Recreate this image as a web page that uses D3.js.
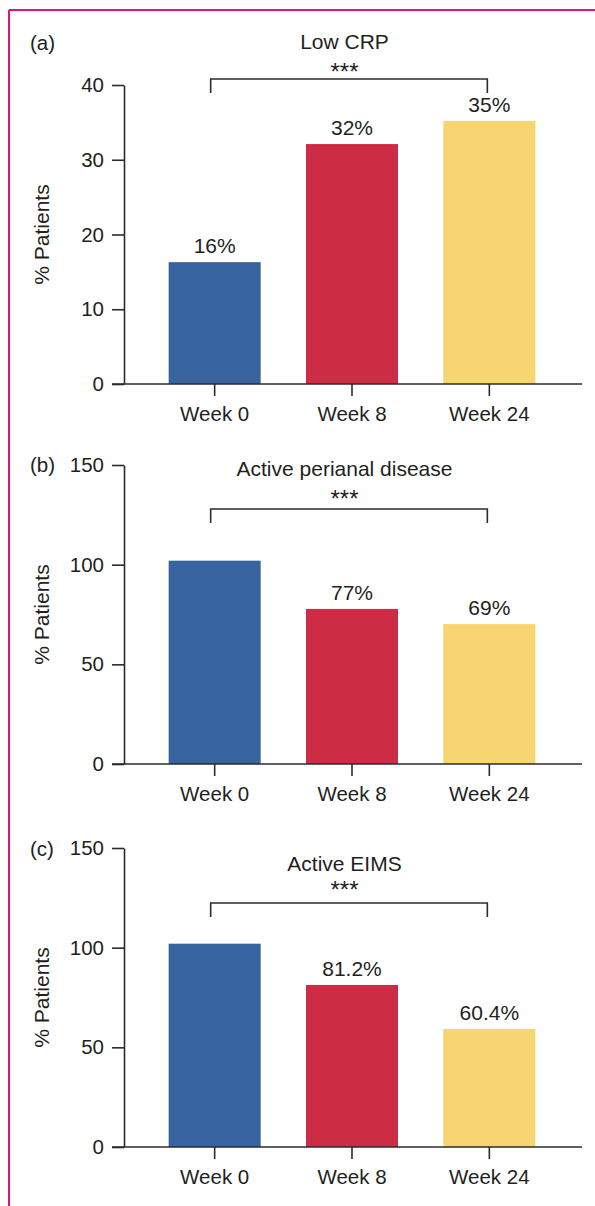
<!DOCTYPE html>
<html>
<head>
<meta charset="utf-8">
<script src="https://cdn.jsdelivr.net/npm/d3@7"></script>
<style>
  body { margin: 0; background: #fff; }
  svg { display: block; font-family: "Liberation Sans", Arial, Helvetica, sans-serif; }
  .axis path, .axis line { stroke: #2b2b2b; stroke-width: 1.6px; }
  .axis text { fill: #231f20; font-size: 20.5px; }
</style>
</head>
<body>
<div id="chart"></div>
<script>
// data
let weeks = ["Week 0", "Week 8", "Week 24"];
let panelLetters = ["(a)", "(b)", "(c)"];
let panelTitles = ["Low CRP", "Active perianal disease", "Active EIMS"];
let lowCrp = [16.3, 32.1, 35.2];
let perianal = [102, 77.8, 70.2];
let eims = [102, 81.3, 59.2];
let barLabels = [["16%", "32%", "35%"], ["", "77%", "69%"], ["", "81.2%", "60.4%"]];
let yMax = [40, 150, 150];
let yTicks = [[0, 10, 20, 30, 40], [0, 50, 100, 150], [0, 50, 100, 150]];
let significance = ["***", "***", "***"];

let barColors = ["#37649e", "#cd2c45", "#f7d672"];
let textColor = "#231f20";

let width = 595, height = 1206;

// layout of each panel: top of y axis, title / star / bracket baselines
let layout = [
  { top: 85,  titleY: 49,  starY: 80,  bracketY: 79,  letterY: 50 },
  { top: 465, titleY: 476, starY: 507, bracketY: 509, letterY: 472 },
  { top: 848, titleY: 871, starY: 898, bracketY: 903, letterY: 856 }
];
let plotH = 299;
let axisX = 124;

let svg = d3.select("#chart")
  .append("svg")
  .attr("width", width)
  .attr("height", height);

// magenta frame (top and left edges)
svg.append("line").attr("x1", 9).attr("x2", width).attr("y1", 10).attr("y2", 10)
  .attr("stroke", "#e0137a").attr("stroke-width", 2);
svg.append("line").attr("x1", 9).attr("x2", 9).attr("y1", 10).attr("y2", height)
  .attr("stroke", "#e0137a").attr("stroke-width", 2);

let xScale = d3.scaleBand()
  .domain(weeks)
  .range([146, 558])
  .paddingInner(0.33)
  .paddingOuter(0.165);

let allValues = [lowCrp, perianal, eims];

for (let p = 0; p < 3; p++) {
  let L = layout[p];
  let values = allValues[p];
  let data = weeks.map(function(w, i) { return { week: w, value: values[i], label: barLabels[p][i], color: barColors[i] }; });

  let yScale = d3.scaleLinear()
    .domain([0, yMax[p]])
    .range([L.top + plotH, L.top]);

  let g = svg.append("g");

  g.selectAll("rect")
    .data(data)
    .enter()
    .append("rect")
    .attr("x", function(d) { return xScale(d.week); })
    .attr("width", xScale.bandwidth())
    .attr("y", function(d) { return yScale(d.value); })
    .attr("height", function(d) { return yScale(0) - yScale(d.value); })
    .attr("fill", function(d) { return d.color; });

  // value labels
  g.selectAll(".vlabel")
    .data(data.filter(function(d) { return d.label !== ""; }))
    .enter()
    .append("text")
    .attr("class", "vlabel")
    .attr("x", function(d) { return xScale(d.week) + xScale.bandwidth() / 2; })
    .attr("y", function(d) { return yScale(d.value) - 9; })
    .attr("text-anchor", "middle")
    .attr("fill", textColor)
    .style("font-size", "21px")
    .text(function(d) { return d.label; });

  // y axis
  let yAxis = d3.axisLeft(yScale)
    .tickValues(yTicks[p])
    .tickSize(12)
    .tickSizeOuter(0)
    .tickPadding(8);

  g.append("g")
    .attr("class", "axis y-axis")
    .attr("transform", "translate(" + axisX + ",0)")
    .call(yAxis);

  // x axis
  let xAxis = d3.axisBottom(xScale)
    .tickSize(12)
    .tickSizeOuter(0)
    .tickPadding(10);

  let xg = g.append("g")
    .attr("class", "axis x-axis")
    .attr("transform", "translate(0," + yScale(0) + ")")
    .call(xAxis);
  xg.select(".domain").remove();
  xg.append("line")
    .attr("x1", axisX - 12).attr("x2", 582)
    .attr("y1", 0).attr("y2", 0);

  // y axis label
  g.append("text")
    .attr("transform", "translate(49," + (L.top + plotH / 2) + ") rotate(-90)")
    .attr("text-anchor", "middle")
    .attr("fill", textColor)
    .style("font-size", "21px")
    .text("% Patients");

  // panel letter
  g.append("text")
    .attr("x", 30)
    .attr("y", L.letterY)
    .attr("fill", textColor)
    .style("font-size", "20.5px")
    .text(panelLetters[p]);

  // title
  g.append("text")
    .attr("x", 344.5)
    .attr("y", L.titleY)
    .attr("text-anchor", "middle")
    .attr("fill", textColor)
    .style("font-size", "21px")
    .text(panelTitles[p]);

  g.append("text")
    .attr("x", 344.5)
    .attr("y", L.starY)
    .attr("text-anchor", "middle")
    .attr("fill", textColor)
    .style("font-size", "24px")
    .text(significance[p]);

  // bracket Week 0 -> Week 24
  let bx1 = xScale(weeks[0]) + xScale.bandwidth() / 2 - 4;
  let bx2 = xScale(weeks[2]) + xScale.bandwidth() / 2 - 2;
  g.append("path")
    .attr("d", "M" + bx1 + "," + (L.bracketY + 14) + "V" + L.bracketY + "H" + bx2 + "V" + (L.bracketY + 14))
    .attr("fill", "none")
    .attr("stroke", "#2b2b2b")
    .attr("stroke-width", 1.6);
}
</script>
</body>
</html>
